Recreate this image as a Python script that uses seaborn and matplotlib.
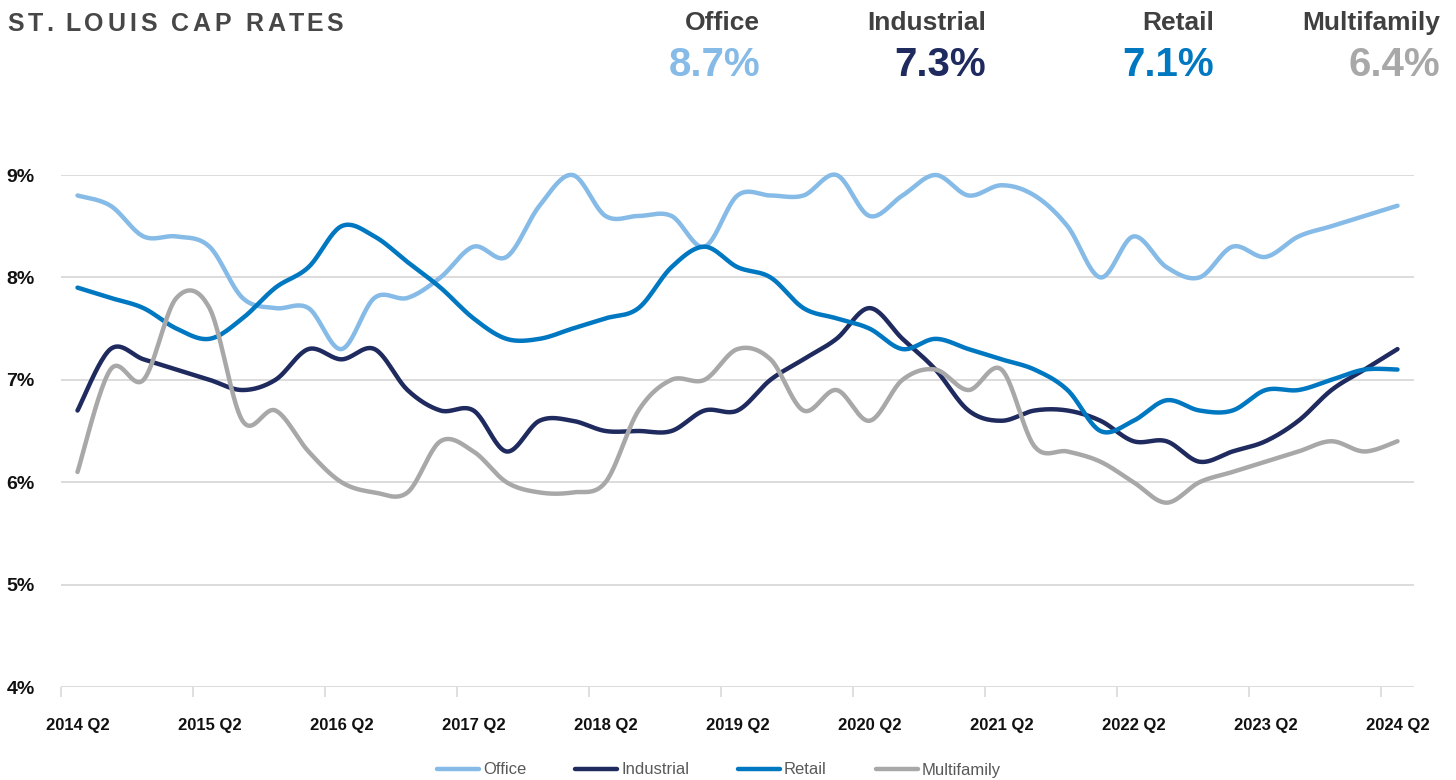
import numpy as np
import pandas as pd
import matplotlib
matplotlib.use("Agg")
import matplotlib.pyplot as plt
import seaborn as sns
from matplotlib.lines import Line2D

# ---------------- data ----------------
series_names = ["Office", "Industrial", "Retail", "Multifamily"]
tick_labels = ["2014 Q2", "2015 Q2", "2016 Q2", "2017 Q2", "2018 Q2", "2019 Q2",
               "2020 Q2", "2021 Q2", "2022 Q2", "2023 Q2", "2024 Q2"]
quarters = [f"{2014 + (1 + i) // 4} Q{(1 + i) % 4 + 1}" for i in range(41)]

office = [8.8, 8.7, 8.4, 8.4, 8.3, 7.8, 7.7, 7.7, 7.3, 7.8,
          7.8, 8.0, 8.3, 8.2, 8.7, 9.0, 8.6, 8.6, 8.6, 8.3,
          8.8, 8.8, 8.8, 9.0, 8.6, 8.8, 9.0, 8.8, 8.9, 8.8,
          8.5, 8.0, 8.4, 8.1, 8.0, 8.3, 8.2, 8.4, 8.5, 8.6, 8.7]
industrial = [6.7, 7.3, 7.2, 7.1, 7.0, 6.9, 7.0, 7.3, 7.2, 7.3,
              6.9, 6.7, 6.7, 6.3, 6.6, 6.6, 6.5, 6.5, 6.5, 6.7,
              6.7, 7.0, 7.2, 7.4, 7.7, 7.4, 7.1, 6.7, 6.6, 6.7,
              6.7, 6.6, 6.4, 6.4, 6.2, 6.3, 6.4, 6.6, 6.9, 7.1, 7.3]
retail = [7.9, 7.8, 7.7, 7.5, 7.4, 7.6, 7.9, 8.1, 8.5, 8.4,
          8.15, 7.9, 7.6, 7.4, 7.4, 7.5, 7.6, 7.7, 8.1, 8.3,
          8.1, 8.0, 7.7, 7.6, 7.5, 7.3, 7.4, 7.3, 7.2, 7.1,
          6.9, 6.5, 6.6, 6.8, 6.7, 6.7, 6.9, 6.9, 7.0, 7.1, 7.1]
multifamily = [6.1, 7.1, 7.0, 7.8, 7.7, 6.6, 6.7, 6.3, 6.0, 5.9,
               5.9, 6.4, 6.3, 6.0, 5.9, 5.9, 6.0, 6.7, 7.0, 7.0,
               7.3, 7.2, 6.7, 6.9, 6.6, 7.0, 7.1, 6.9, 7.1, 6.35,
               6.3, 6.2, 6.0, 5.8, 6.0, 6.1, 6.2, 6.3, 6.4, 6.3, 6.4]
latest_labels = ["8.7%", "7.3%", "7.1%", "6.4%"]
y_ticks = [4, 5, 6, 7, 8, 9]
title = "ST. LOUIS CAP RATES"

colors = {"Office": "#85BBE6", "Industrial": "#1F2A5F",
          "Retail": "#0078C1", "Multifamily": "#A8A8A8"}

NARROW = ["Liberation Sans Narrow", "Liberation Sans", "DejaVu Sans"]
SANS = ["Liberation Sans", "DejaVu Sans"]


def smooth(xv, yv, n=24):
    """Excel-style smoothed line (Catmull-Rom Bezier) through the data points."""
    x = np.asarray(xv, float)
    y = np.asarray(yv, float)
    P = np.column_stack([x, y])
    out = []
    m = len(P)
    for i in range(m - 1):
        p0 = P[i - 1] if i > 0 else P[i]
        p1 = P[i]
        p2 = P[i + 1]
        p3 = P[i + 2] if i + 2 < m else P[i + 1]
        c1 = p1 + (p2 - p0) / 6.0
        c2 = p2 - (p3 - p1) / 6.0
        t = np.linspace(0, 1, n, endpoint=(i == m - 2))[:, None]
        seg = ((1 - t) ** 3) * p1 + 3 * ((1 - t) ** 2) * t * c1 + 3 * (1 - t) * t ** 2 * c2 + t ** 3 * p2
        out.append(seg)
    arr = np.vstack(out)
    return arr[:, 0], arr[:, 1]


frames = []
xidx = np.arange(len(quarters))
for name, vals in zip(series_names, [office, industrial, retail, multifamily]):
    sx, sy = smooth(xidx, vals)
    frames.append(pd.DataFrame({"x": sx, "y": sy, "series": name,
                                "order": np.arange(len(sx))}))
df = pd.concat(frames, ignore_index=True)

# ---------------- figure ----------------
sns.set_theme(style="white")
plt.rcParams["font.family"] = SANS

W, H = 1456, 780
fig = plt.figure(figsize=(W / 100, H / 100), dpi=100)
ax = fig.add_axes([61 / W, 1 - 687 / H, (1414 - 61) / W, (687 - 175) / H])

for name in series_names:
    sub = df[df["series"] == name]
    sns.lineplot(data=sub, x="x", y="y", ax=ax, color=colors[name], linewidth=3.2,
                 sort=False, estimator=None, legend=False,
                 solid_capstyle="round", clip_on=False)

ax.set_xlim(-0.5, len(quarters) - 0.5)
ax.set_ylim(4, 9)
ax.set_xlabel("")
ax.set_ylabel("")

# grid lines
for v in y_ticks:
    ax.axhline(v, color="#D9D9D9", linewidth=1.3, zorder=0)

ax.set_yticks(y_ticks)
ax.set_yticklabels([f"{v}%" for v in y_ticks], fontsize=14, fontweight="bold",
                   color="#111111", family=NARROW)
ax.tick_params(axis="y", length=0, pad=19)

major = [quarters.index(t) for t in tick_labels]
ax.set_xticks(major)
ax.set_xticklabels(tick_labels, fontsize=12, fontweight="bold",
                   color="#111111", family=NARROW)
ax.set_xticks(np.arange(-0.5, len(quarters) - 0.5, 4), minor=True)
ax.tick_params(axis="x", which="major", length=0, pad=22)
ax.tick_params(axis="x", which="minor", length=7, width=1.2, color="#D9D9D9",
               direction="out", bottom=True)

for s in ax.spines.values():
    s.set_visible(False)
ax.grid(False)

# ---------------- header ----------------
# letter-spaced title: measure prefix widths and add tracking
renderer = fig.canvas.get_renderer()
title_kw = dict(fontsize=18, fontweight="bold", color="#474747", va="center",
                ha="left", family=SANS)
x0, x_end = 7.0, 343.0
probe = fig.text(0, 0, title, **title_kw)
full_w = probe.get_window_extent(renderer).width
probe.remove()
tracking = (x_end - x0 - full_w) / (len(title) - 1)
for k, ch in enumerate(title):
    if ch == " ":
        continue
    if k > 0:
        p = fig.text(0, 0, title[:k] + "|", **title_kw)
        q = fig.text(0, 0, "|", **title_kw)
        pw = p.get_window_extent(renderer).width - q.get_window_extent(renderer).width
        p.remove()
        q.remove()
    else:
        pw = 0.0
    fig.text((x0 + pw + k * tracking) / W, 1 - 24 / H, ch, **title_kw)

right_edges = [760, 986, 1214, 1440]
for name, lab, xr in zip(series_names, latest_labels, right_edges):
    fig.text(xr / W, 1 - 23 / H, name, fontsize=19, fontweight="bold",
             color="#404040", ha="right", va="center", family=NARROW)
    fig.text(xr / W, 1 - 65 / H, lab, fontsize=29, fontweight="bold",
             color=colors[name], ha="right", va="center", family=NARROW)

# ---------------- legend ----------------
handles = [Line2D([0], [0], color=colors[n], linewidth=3.2, solid_capstyle="round")
           for n in series_names]
leg = fig.legend(handles, series_names, loc="center", ncol=4,
                 bbox_to_anchor=(719 / W, 1 - 770 / H), frameon=False,
                 handlelength=2.5, handletextpad=0.25, columnspacing=2.95,
                 prop={"family": NARROW, "size": 12})
for t in leg.get_texts():
    t.set_color("#595959")

fig.savefig("out.png", dpi=100)
